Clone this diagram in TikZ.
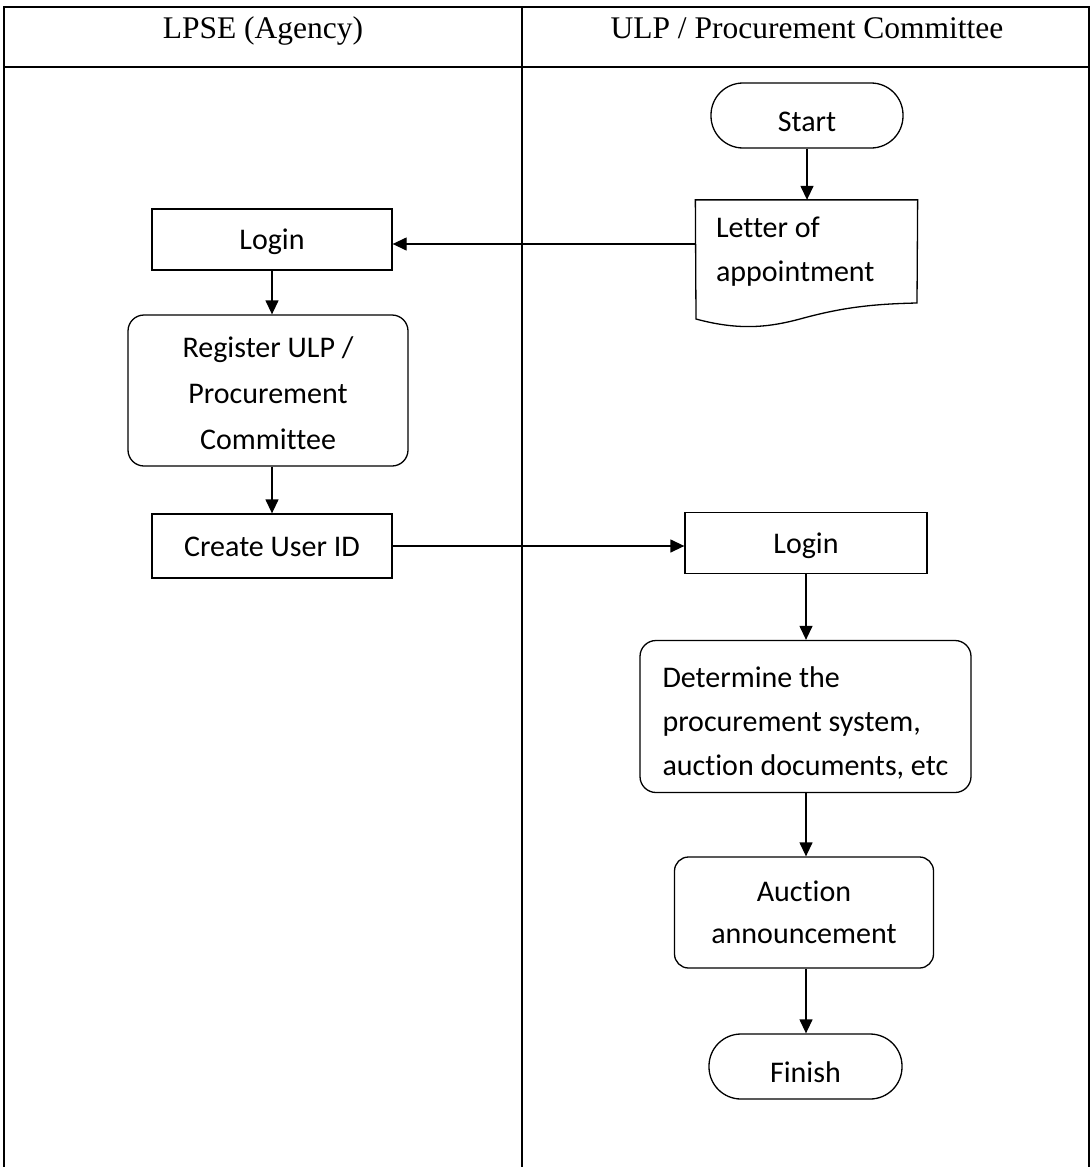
\documentclass[tikz,border=0pt]{standalone}
\usepackage{fontspec}
\setmainfont{Liberation Serif}
\newfontfamily\bodyfont[Ligatures=NoCommon]{Carlito}
\usetikzlibrary{arrows.meta}
\begin{document}
\begin{tikzpicture}[x=1pt,y=-1pt,
  gridline/.style={line width=1.6pt},
  head/.style={inner sep=0pt, anchor=base, font=\fontsize{31.5}{36}\selectfont},
  box/.style={draw, line width=1.3pt, inner sep=0pt, align=center,
    font=\bodyfont\fontsize{30}{44}\selectfont},
  term/.style={box, rounded corners=32pt, text height=32pt, text depth=0pt},
  proc/.style={box, text height=28pt, text depth=8pt},
  rproc/.style={box, rounded corners=16pt},
  arr/.style={-{Triangle[length=14pt,width=13pt]}, line width=1.3pt}]
\useasboundingbox (0,0) rectangle (1091,1167);

% swimlane table
\draw[gridline] (4,1167) -- (4,7) -- (1089,7) -- (1089,1167);
\draw[gridline] (4,67) -- (1089,67);
\draw[gridline] (522,7) -- (522,1167);
\node[head] (laneA) at (263,38) {LPSE (Agency)};
\node[head] (laneB) at (807,38) {ULP / Procurement Committee};

% right lane
\node[term, minimum width=192pt, minimum height=65pt] (start) at (807,115.5) {Start};
\node[box, draw=none, align=flush left, text width=181pt, minimum width=221pt,
  minimum height=103pt] (letter) at (806.5,252) {Letter of\\appointment};
\draw[line width=1.3pt] (letter.north west) -- (letter.north east) -- (917,303)
  .. controls (870,304) and (840,308) .. (800,319)
  .. controls (770,327) and (740,331) .. (696,319) -- cycle;

% left lane
\node[proc, minimum width=240pt, minimum height=61pt] (login1) at (272,239.5) {Login};
\node[rproc, minimum width=280pt, minimum height=151pt,
  font=\bodyfont\fontsize{30}{46}\selectfont] (reg) at (268,390.5)
  {\rule{0pt}{26pt}Register ULP /\\Procurement\\Committee};
\node[proc, minimum width=240pt, minimum height=64pt] (create) at (272,546) {Create User ID};

% right lane, continued
\node[proc, minimum width=242pt, minimum height=61pt] (login2) at (806,543) {Login};
\node[rproc, align=flush left, text width=286pt, minimum width=331pt, minimum height=152pt]
  (det) at (805.5,716.5)
  {\rule{0pt}{33pt}Determine the\\procurement system,\\\mbox{auction documents, etc}};
\node[rproc, rounded corners=14pt, minimum width=259pt, minimum height=111pt,
  font=\bodyfont\fontsize{30}{42}\selectfont]
  (auc) at (804,912.5) {Auction\\announcement};
\node[term, minimum width=193pt, minimum height=65pt] (finish) at (805.5,1066.5) {Finish};

% connectors
\coordinate (lt) at ([yshift=8pt]letter.west);
\draw[arr] (start.south) -- (start.south |- letter.north);
\draw[arr] (lt) -- (lt -| login1.east);
\draw[arr] (login1.south) -- (login1.south |- reg.north);
\draw[arr] (login1.south |- reg.south) -- (create.north);
\draw[arr] (create.east) -- (create.east -| login2.west);
\draw[arr] (login2.south) -- (login2.south |- det.north);
\draw[arr] (login2.south |- det.south) -- (login2.south |- auc.north);
\draw[arr] (login2.south |- auc.south) -- (login2.south |- finish.north);
\end{tikzpicture}
\end{document}
